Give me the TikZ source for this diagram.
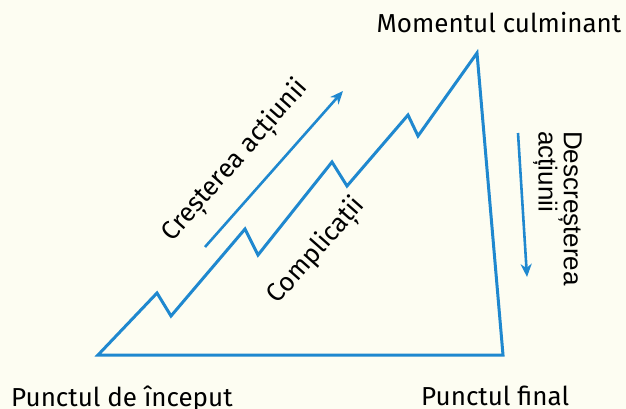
\documentclass[tikz,border=0pt]{standalone}
\usepackage{fontspec}
\setmainfont{Fira Sans}
\newfontfamily\arialfont{Liberation Sans}
\usetikzlibrary{arrows.meta}
\definecolor{bg}{HTML}{FDFDF2}
\definecolor{plotblue}{HTML}{1F88CF}
\tikzset{
  plotline/.style={draw=plotblue, line width=3pt, line join=miter},
  arrowline/.style={draw=plotblue, line width=2.6pt, -{Stealth[length=13pt,width=11pt,inset=4pt]}},
  lbl/.style={font=\fontsize{26}{30}\selectfont, text=black, inner sep=0pt},
}
\begin{document}
\begin{tikzpicture}[x=1pt,y=-1pt]
\fill[bg] (0,0) rectangle (626,409);
\useasboundingbox (0,0) rectangle (626,409);
\coordinate (p0) at (98,355);
\coordinate (p1) at (157,293);
\coordinate (p2) at (171,316);
\coordinate (p3) at (245,229);
\coordinate (p4) at (258,255);
\coordinate (p5) at (332,162);
\coordinate (p6) at (347,186);
\coordinate (p7) at (408,115);
\coordinate (p8) at (418,136);
\coordinate (p9) at (477,53);
\coordinate (p10) at (503,355);
\draw[plotline] (p0) -- (p1) -- (p2) -- (p3) -- (p4) -- (p5) -- (p6) -- (p7) -- (p8) -- (p9) -- (p10) -- cycle;
\coordinate (a0) at (205,247);
\coordinate (a1) at (343,91);
\draw[arrowline] (a0) -- (a1);
\coordinate (d0) at (518,133);
\coordinate (d1) at (527,277);
\draw[arrowline] (d0) -- (d1);
\node[lbl, anchor=base] (mc) at (499,33) {Momentul culminant};
\node[lbl, anchor=base west] (pi) at (11,406) {Punctul de început};
\node[lbl, anchor=base west] (pf) at (421,405) {Punctul final};
\node[lbl, rotate=48.5] (cr) at (236,161) {Creșterea acțiunii};
\node[lbl, rotate=48.5] (co) at (317,251) {Complicații};
\node[lbl, font=\arialfont\fontsize{26}{24}\selectfont, rotate=-90, anchor=north west, align=left] (de) at (582,131) {Descreșterea\\acțiunii};
\end{tikzpicture}
\end{document}
